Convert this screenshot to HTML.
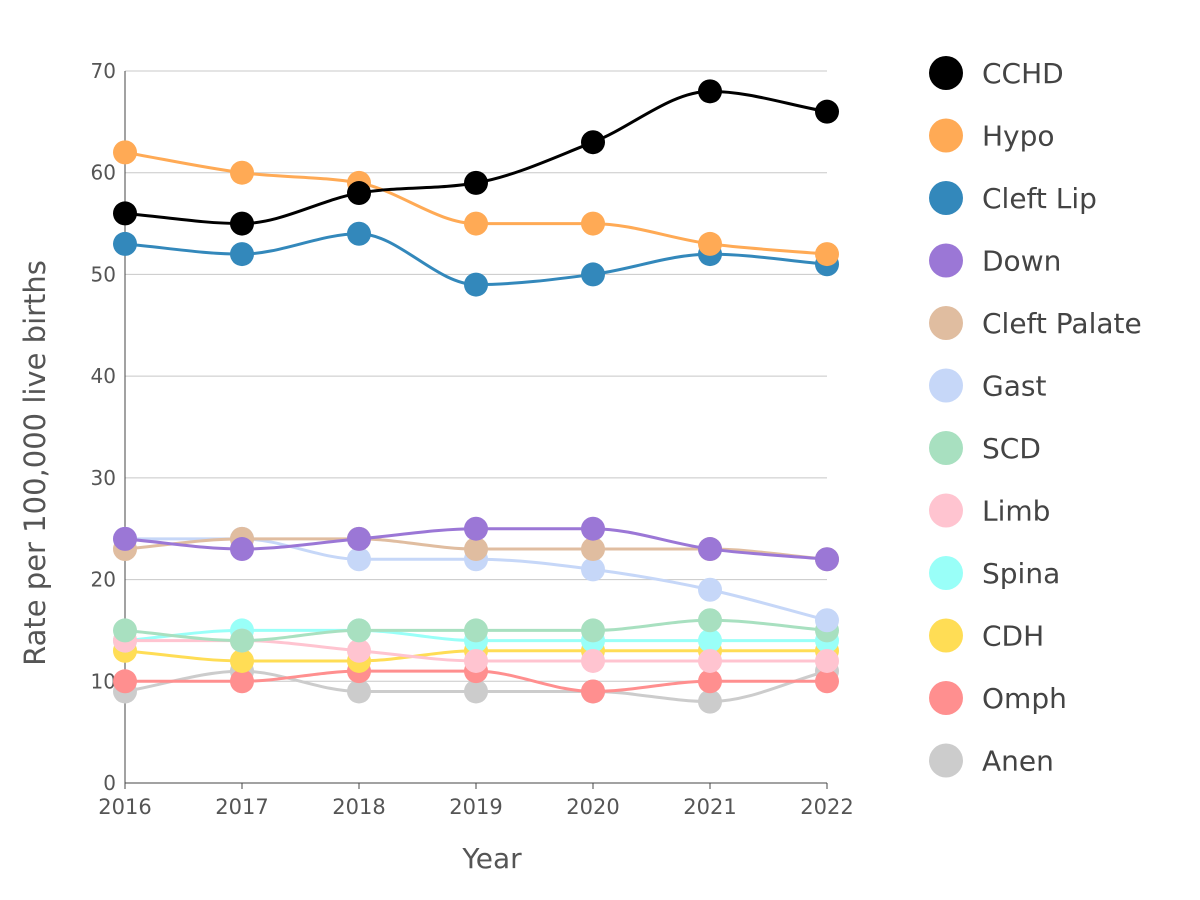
<!DOCTYPE html>
<html><head><meta charset="utf-8"><style>
html,body{margin:0;padding:0;background:#fff;}
svg{display:block;font-family:"DejaVu Sans","Liberation Sans",sans-serif;}
</style></head><body>
<svg id="chart" width="1200" height="900"></svg>
<script>
const years = [2016,2017,2018,2019,2020,2021,2022];
const seriesNames = ["CCHD","Hypo","Cleft Lip","Down","Cleft Palate","Gast","SCD","Limb","Spina","CDH","Omph","Anen"];
const seriesColors = ["#000000","#ffaa55","#3388bb","#9b77d6","#e0bda0","#c6d7f8","#a8e0c0","#ffc4d0","#99fff8","#ffdd55","#ff8f8f","#cccccc"];
const cchd = [56,55,58,59,63,68,66];
const hypo = [62,60,59,55,55,53,52];
const cleftLip = [53,52,54,49,50,52,51];
const down = [24,23,24,25,25,23,22];
const cleftPalate = [23,24,24,23,23,23,22];
const gast = [24,24,22,22,21,19,16];
const scd = [15,14,15,15,15,16,15];
const limb = [14,14,13,12,12,12,12];
const spina = [14,15,15,14,14,14,14];
const cdh = [13,12,12,13,13,13,13];
const omph = [10,10,11,11,9,10,10];
const anen = [9,11,9,9,9,8,11];
const seriesValues = [cchd,hypo,cleftLip,down,cleftPalate,gast,scd,limb,spina,cdh,omph,anen];
const yTicks = [0,10,20,30,40,50,60,70];

const NS="http://www.w3.org/2000/svg";
const svg=document.getElementById('chart');
const X0=125,X1=827,Y0=783,Y1=71;
const xs=v=>X0+(v-years[0])/(years[years.length-1]-years[0])*(X1-X0);
const ys=v=>Y0-(v/70)*(Y0-Y1);
function mk(t,a,p){const e=document.createElementNS(NS,t);for(const k in a)e.setAttribute(k,a[k]);(p||svg).appendChild(e);return e;}

const grid=mk('g',{});


yTicks.forEach(t=>{
  if(t>0){const l=mk('line',{x1:X0,x2:X1,y1:ys(t),y2:ys(t),stroke:'#c8c8c8','stroke-width':1},grid);
  
  }
  const tx=mk('text',{x:X0-9,y:ys(t)+7,'text-anchor':'end','font-size':20,fill:'#555'});
  tx.textContent=t;
  
  
});
const ax=mk('line',{x1:X0,x2:X0,y1:Y1,y2:Y0,stroke:'#444','stroke-width':1});


const bx=mk('line',{x1:X0,x2:X1,y1:Y0,y2:Y0,stroke:'#444','stroke-width':1});


years.forEach(y=>{
  const tk=mk('line',{x1:xs(y),x2:xs(y),y1:Y0,y2:Y0+6,stroke:'#444'});
  
  
  const tx=mk('text',{x:xs(y),y:Y0+31,'text-anchor':'middle','font-size':21,fill:'#555'});
  tx.textContent=y;
  
  
});
const xt=mk('text',{x:492,y:868,'text-anchor':'middle','font-size':28,fill:'#555'});
xt.textContent='Year';


const yt=mk('text',{x:0,y:0,'text-anchor':'middle','font-size':29,fill:'#555',transform:'translate(45,463) rotate(-90)'});
yt.textContent='Rate per 100,000 live births';



function monotone(pts){
  const n=pts.length;const dx=[],m=[],t=[];
  for(let i=0;i<n-1;i++){dx[i]=pts[i+1][0]-pts[i][0];m[i]=(pts[i+1][1]-pts[i][1])/dx[i];}
  t[0]=m[0];t[n-1]=m[n-2];
  for(let i=1;i<n-1;i++){
    if(m[i-1]*m[i]<=0)t[i]=0;
    else{const h0=dx[i-1],h1=dx[i];const p=(m[i-1]*h1+m[i]*h0)/(h0+h1);
      t[i]=(Math.sign(m[i-1])+Math.sign(m[i]))*Math.min(Math.abs(m[i-1]),Math.abs(m[i]),0.5*Math.abs(p));}
  }
  let d='M'+pts[0][0]+','+pts[0][1];
  for(let i=0;i<n-1;i++){const h=dx[i]/3;
    d+='C'+(pts[i][0]+h)+','+(pts[i][1]+t[i]*h)+','+(pts[i+1][0]-h)+','+(pts[i+1][1]-t[i+1]*h)+','+pts[i+1][0]+','+pts[i+1][1];}
  return d;
}

for(let s=seriesNames.length-1;s>=0;s--){
  const g=mk('g',{});
  
  
  const pts=seriesValues[s].map((v,i)=>[xs(years[i]),ys(v)]);
  const p=mk('path',{d:monotone(pts),fill:'none',stroke:seriesColors[s],'stroke-width':3},g);
  
  
  pts.forEach(q=>{
    const c=mk('circle',{cx:q[0],cy:q[1],r:12,fill:seriesColors[s]},g);
    
    
  });
}

const lg=mk('g',{});


seriesNames.forEach((n,i)=>{
  const y=73+i*62.5;
  const c=mk('circle',{cx:946,cy:y,r:17,fill:seriesColors[i]},lg);
  
  
  const t=mk('text',{x:982,y:y+10,'font-size':28,fill:'#444'},lg);
  t.textContent=n;
  
  
});
</script>
</body></html>
